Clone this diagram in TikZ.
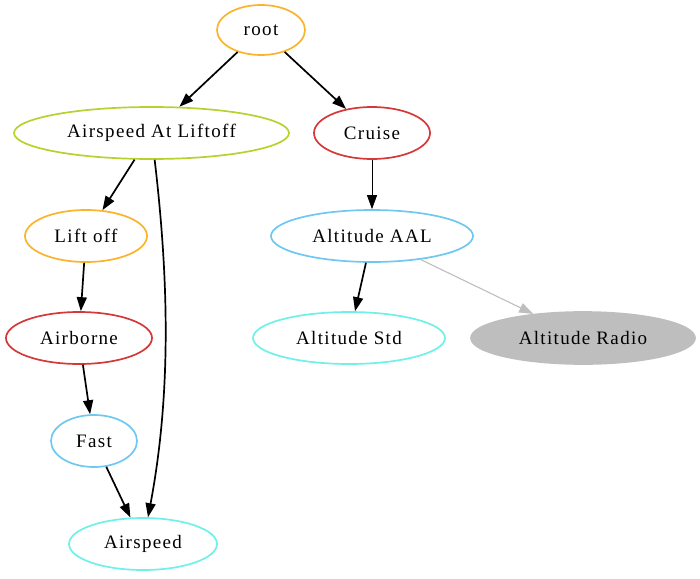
\documentclass[tikz,border=0pt]{standalone}
\usepackage{fontspec}
\setmainfont[LetterSpace=7]{Liberation Serif}
\usetikzlibrary{shapes.geometric,arrows.meta}
\definecolor{corange}{HTML}{FBB32C}
\definecolor{cgreen}{HTML}{B9D02E}
\definecolor{cred}{HTML}{D43838}
\definecolor{cblue}{HTML}{6FC8F2}
\definecolor{ccyan}{HTML}{6FF0E8}
\definecolor{cgray}{HTML}{BEBEBE}
\tikzset{
  gnode/.style={ellipse, draw, line width=1.7pt, inner sep=0pt, font=\fontsize{19}{22}\selectfont},
  edge/.style={line width=1.7pt, -{Triangle[length=14pt,width=10pt]}},
  thinedge/.style={line width=0.8pt, -{Triangle[length=14pt,width=10pt]}},
}
\begin{document}
\begin{tikzpicture}[x=1pt,y=-1pt]
\useasboundingbox (0,0) rectangle (700,578);
\node[gnode, draw=corange, minimum width=88pt, minimum height=50pt] (root) at (261,30) {root};
\node[gnode, draw=cgreen, minimum width=275pt, minimum height=52pt] (alo) at (151.5,133) {Airspeed At Liftoff};
\node[gnode, draw=cred, minimum width=116pt, minimum height=52pt] (cruise) at (372,133) {Cruise};
\node[gnode, draw=corange, minimum width=122pt, minimum height=52pt] (lift) at (86,236) {Lift off};
\node[gnode, draw=cblue, minimum width=202pt, minimum height=52pt] (aal) at (372,236) {Altitude AAL};
\node[gnode, draw=cred, minimum width=146pt, minimum height=52pt] (airborne) at (79,338) {Airborne};
\node[gnode, draw=ccyan, minimum width=192pt, minimum height=52pt] (std) at (349,338) {Altitude Std};
\node[gnode, draw=cgray, fill=cgray, minimum width=224pt, minimum height=52pt] (radio) at (583,338) {Altitude Radio};
\node[gnode, draw=cblue, minimum width=86pt, minimum height=52pt] (fast) at (94,441) {Fast};
\node[gnode, draw=ccyan, minimum width=148pt, minimum height=52pt] (air) at (143,544) {Airspeed};

\draw[edge] (root) -- (alo);
\draw[edge] (root) -- (cruise);
\draw[edge] (alo) -- (lift);
\draw[edge] (alo) .. controls (170,290) and (170,400) .. (air);
\draw[thinedge] (cruise) -- (aal);
\draw[edge] (aal) -- (std);
\draw[thinedge, draw=cgray, line width=1.1pt, -{Triangle[length=14pt,width=10pt,fill=cgray]}] (aal) -- (radio);
\draw[edge] (lift) -- (airborne);
\draw[edge] (airborne) -- (fast);
\draw[edge] (fast) -- (air);
\end{tikzpicture}
\end{document}
